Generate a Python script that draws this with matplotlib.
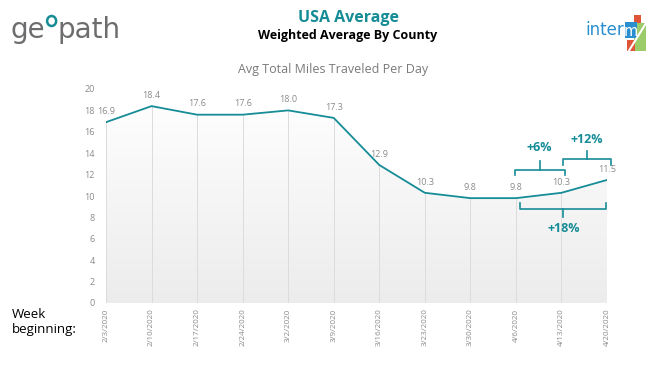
import matplotlib
matplotlib.use("Agg")
import matplotlib.pyplot as plt
import numpy as np
from matplotlib.patches import Polygon, Rectangle, Ellipse

dates = ["2/3/2020", "2/10/2020", "2/17/2020", "2/24/2020", "3/2/2020", "3/9/2020",
         "3/16/2020", "3/23/2020", "3/30/2020", "4/6/2020", "4/13/2020", "4/20/2020"]
values = [16.9, 18.4, 17.6, 17.6, 18.0, 17.3, 12.9, 10.3, 9.8, 9.8, 10.3, 11.5]
yticks = [0, 2, 4, 6, 8, 10, 12, 14, 16, 18, 20]

teal = "#168C96"
gray_txt = "#8a8a8a"

plt.rcParams['font.family'] = ['Open Sans', 'DejaVu Sans']

fig = plt.figure(figsize=(6.66, 3.75), dpi=100)
ax = fig.add_axes([106/666, 72/375, 501/666, 214/375])
x = np.arange(len(values))

# gradient fill under line
grad = np.linspace(0, 1, 256).reshape(-1, 1)
img = ax.imshow(grad, extent=[0, len(values)-1, 0, 20], origin='lower', aspect='auto',
                cmap=matplotlib.colors.LinearSegmentedColormap.from_list('g', ['#ececec', '#ffffff']),
                zorder=0)
poly = Polygon(np.vstack([[0, 0], np.column_stack([x, values]), [len(values)-1, 0]]),
               closed=True, facecolor='none', edgecolor='none')
ax.add_patch(poly)
img.set_clip_path(poly)

for xi, v in zip(x, values):
    ax.plot([xi, xi], [0, v], color='#dcdcdc', lw=0.7, zorder=1)

ax.plot(x, values, color=teal, lw=1.3, zorder=3)
for xi, v in zip(x, values):
    ax.annotate(f"{v:.1f}", (xi, v), xytext=(0, 4.5), textcoords='offset points',
                ha='center', va='bottom', fontsize=6.5, color=gray_txt)

ax.set_xlim(0, len(values)-1)
ax.set_ylim(0, 20)
ax.set_yticks(yticks)
ax.set_yticklabels([str(t) for t in yticks], fontsize=6.5, color=gray_txt)
ax.set_xticks(x)
ax.set_xticklabels(dates, rotation=90, fontsize=5.8, color=gray_txt)
ax.tick_params(length=0, pad=8)
ax.tick_params(axis='x', pad=4)
for s in ax.spines.values():
    s.set_visible(False)

# brackets
def bracket(x0, x1, y, yend, xc, ytip, label, ylab):
    kw = dict(color=teal, lw=1.2, clip_on=False, zorder=4)
    ax.plot([x0, x0, x1, x1], [yend, y, y, yend], **kw)
    ax.plot([xc, xc], [y, ytip], **kw)
    ax.text(xc, ylab, label, ha='center', va='center', fontsize=9, fontweight='bold',
            color=teal, clip_on=False)

bracket(8.99, 10.07, 12.4, 11.95, 9.52, 13.25, "+6%", 14.5)
bracket(10.04, 11.08, 13.45, 12.9, 10.56, 14.2, "+12%", 15.3)
bracket(9.1, 10.97, 8.8, 9.35, 10.04, 8.0, "+18%", 7.0)

# titles
fig.text(348/666, 1-18/375, "USA Average", ha='center', va='center', fontsize=11.5,
         fontweight='bold', color=teal)
fig.text(348/666, 1-36/375, "Weighted Average By County", ha='center', va='center',
         fontsize=9, fontweight='bold', color='black')
fig.text(333/666, 1-70/375, "Avg Total Miles Traveled Per Day", ha='center', va='center',
         fontsize=9, color='#7a7a7a')
fig.text(12/666, 1-322/375, "Week\nbeginning:", ha='left', va='center', fontsize=9.5,
         color='black', linespacing=1.15)

fig.canvas.draw()
r = fig.canvas.get_renderer()

# geopath logo
t1 = fig.text(11/666, 1-30/375, "ge", ha='left', va='center', fontsize=20, color='#6d6d6f',
              family='DejaVu Sans')
b1 = t1.get_window_extent(r)
ocx = b1.x1 + 6
fig.patches.append(Ellipse((ocx/666, 1-21/375), 9/666, 10/375, transform=fig.transFigure,
                           facecolor='none', edgecolor=teal, lw=1.8))
fig.text((ocx + 6)/666, 1-30/375, "path", ha='left', va='center', fontsize=20,
         color='#6d6d6f', family='DejaVu Sans')

# intermx logo
def frect(x0, y0, w, h, c):
    fig.patches.append(Rectangle((x0/666, 1-(y0+h)/375), w/666, h/375,
                                 transform=fig.transFigure, facecolor=c, edgecolor='none'))

t3 = fig.text(585/666, 1-30/375, "inter", ha='left', va='center', fontsize=12,
              color='#2a8fcf', family='DejaVu Sans')
b3 = t3.get_window_extent(r)
mx = b3.x1 + 1
frect(mx + 9, 15, 7, 9, '#e0553a')
frect(mx + 9, 23, 12, 28, '#9ccb6a')
frect(mx + 2, 40, 8, 11, '#e0553a')
frect(mx, 22, 12, 16, '#2a8fcf')
fig.text((mx + 6)/666, 1-31/375, "m", ha='center', va='center', fontsize=10.5,
         color='white', family='DejaVu Sans')
fig.lines.append(plt.Line2D([(mx + 4)/666, (mx + 22)/666], [1-51/375, 1-22/375],
                            transform=fig.transFigure, color='white', lw=1.5))

fig.savefig("out.png", dpi=100, facecolor='white')
